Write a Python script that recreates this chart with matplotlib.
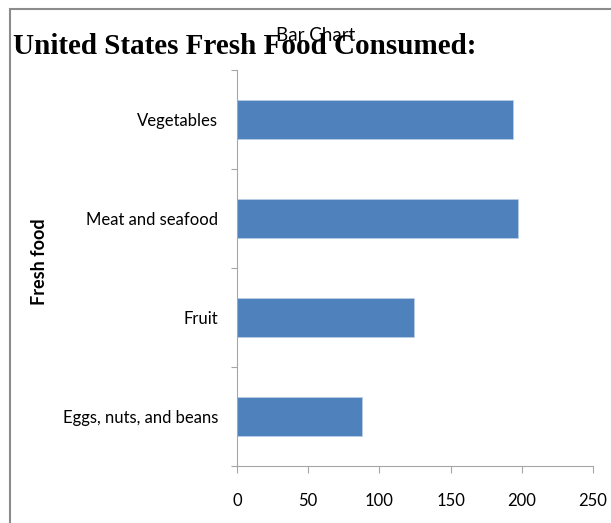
import matplotlib
matplotlib.use("Agg")
import matplotlib.pyplot as plt
from matplotlib.patches import Rectangle
from matplotlib.ticker import FixedLocator, NullFormatter

categories = ["Eggs, nuts, and beans", "Fruit", "Meat and seafood", "Vegetables"]
values = [88, 124, 197, 194]
x_ticks = [0, 50, 100, 150, 200, 250]

W, H = 611, 523
fig = plt.figure(figsize=(W / 100, H / 100), dpi=100)

# axes placement in pixels
left, right, top, bottom = 237, 593, 70, 466
ax = fig.add_axes([left / W, 1 - bottom / H, (right - left) / W, (bottom - top) / H])

pos = list(range(len(categories)))
ax.barh(pos, values, height=0.4, color="#4F81BD", edgecolor="#b9cde5", linewidth=0.6)
ax.set_xlim(0, 250)
ax.set_ylim(-0.5, len(categories) - 0.5)
ax.set_xticks(x_ticks)
ax.set_xticklabels([str(t) for t in x_ticks], fontfamily="Lato", fontsize=12)
ax.set_yticks(pos)
ax.set_yticklabels(categories, fontfamily="Lato", fontsize=12)
ax.yaxis.set_minor_locator(FixedLocator([p - 0.5 for p in pos] + [len(pos) - 0.5]))
ax.yaxis.set_minor_formatter(NullFormatter())
ax.tick_params(axis="y", which="major", length=0, pad=13.5)
ax.tick_params(axis="y", which="minor", length=4.5, color="#a6a6a6", width=0.8)
ax.tick_params(axis="x", which="major", length=5, color="#a6a6a6", width=0.8, pad=14.5)
for s in ["top", "right"]:
    ax.spines[s].set_visible(False)
for s in ["left", "bottom"]:
    ax.spines[s].set_color("#a6a6a6")
    ax.spines[s].set_linewidth(0.8)

ax.set_ylabel("Fresh food", fontfamily="Lato", fontweight="bold", fontsize=13)
ax.yaxis.set_label_coords(48 / W, 0.5, transform=fig.transFigure)

# outer frame
fig.add_artist(Rectangle((10 / W, -0.1), 1.2, 1 - 9 / H + 0.1, transform=fig.transFigure,
                         fill=False, edgecolor="#8c8c8c", linewidth=1.5))

fig.text(316 / W, 1 - 41 / H, "Bar Chart", fontfamily="Lato", fontsize=13.5,
         ha="center", va="baseline")
fig.text(13 / W, 1 - 54 / H, "United States Fresh Food Consumed:", fontfamily="Liberation Serif",
         fontweight="bold", fontsize=21, ha="left", va="baseline")

fig.savefig("out.png", dpi=100)
